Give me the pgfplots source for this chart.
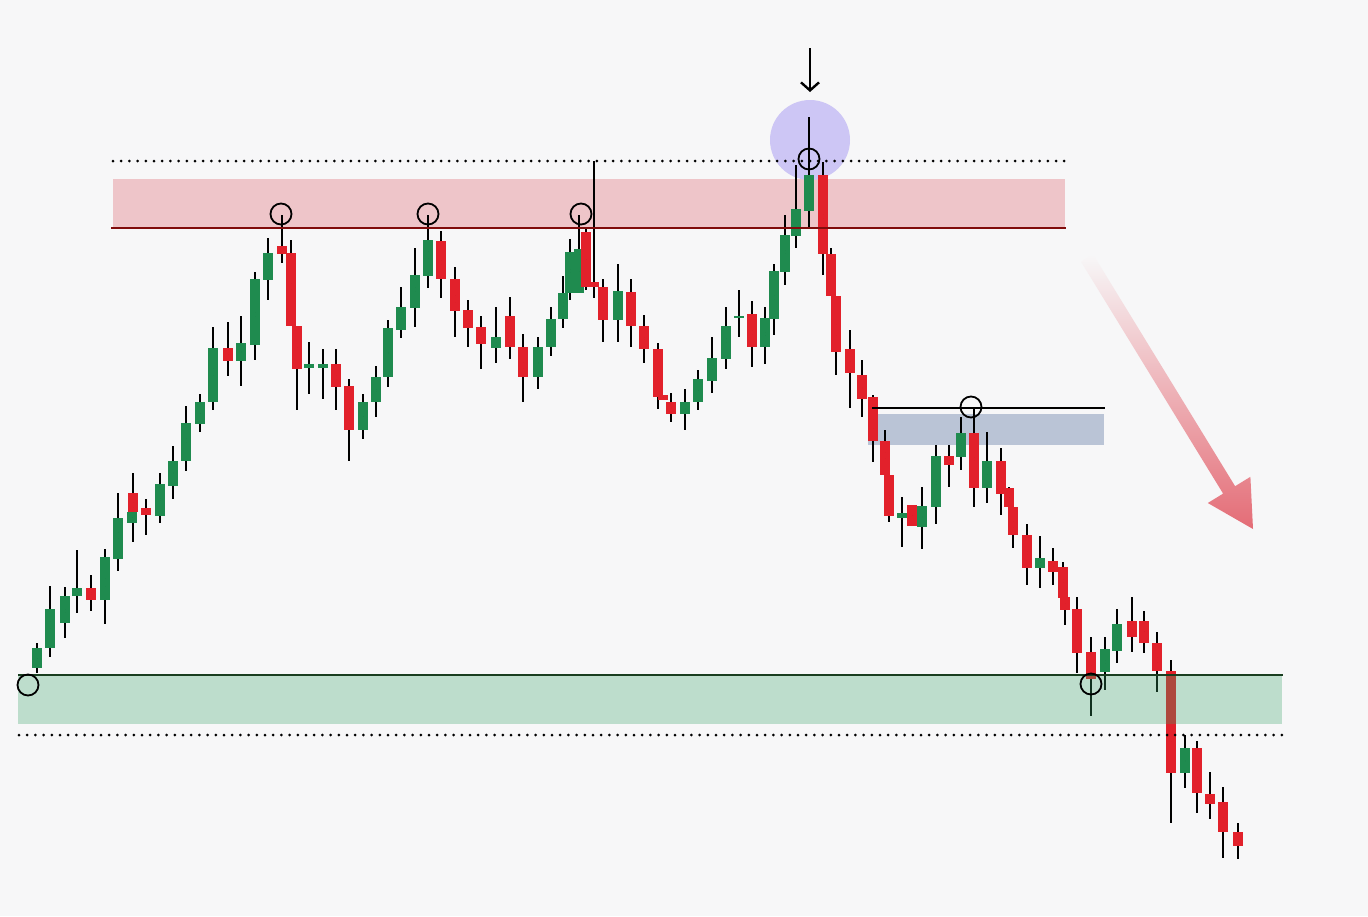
\documentclass[border=0pt]{standalone}
\usepackage{pgfplots}
\usepackage{pgfplotstable}
\pgfplotsset{compat=1.18}
\usetikzlibrary{arrows.meta}
\definecolor{bgc}{RGB}{247,247,248}
\definecolor{cgreen}{RGB}{31,139,79}
\definecolor{cred}{RGB}{226,33,43}
\definecolor{pinkzone}{RGB}{238,197,201}
\definecolor{darkred}{RGB}{128,12,12}
\definecolor{bluezone}{RGB}{186,196,214}
\definecolor{gzone}{RGB}{57,164,105}
\definecolor{darkgreen}{RGB}{25,62,32}
\definecolor{purp}{RGB}{205,198,245}
\definecolor{arrowred}{RGB}{228,108,118}

% pixel-based price values: x = bar position, o/c/h/l = open, close, high, low (screen y)
\pgfplotstableread{
x o c h l
37 668 648 643 673
50 648 609 586 657
65 623 596 587 638
77 596 588 550 613
105 600 557 549 624
118 559 518 493 571
132 523 512 512 523
160 516 484 473 523
173 486 461 446 499
186 461 423 406 471
200 424 402 394 432
213 402 348 327 410
241 361 343 316 386
255 345 279 272 360
268 280 253 238 300
309 368 364 342 394
323 368 364 349 399
363 430 402 394 439
376 402 377 366 417
388 377 328 320 387
401 330 307 287 338
415 308 275 248 327
428 276 240 215 288
496 348 337 307 363
538 377 347 337 389
551 347 319 307 356
563 319 293 276 328
570 293 252 239 300
579 293 249 215 293
618 320 291 264 342
685 414 402 389 430
698 402 379 370 410
712 381 358 337 393
726 359 326 307 369
739 318 316 290 337
765 347 318 307 364
774 319 271 264 335
785 272 235 215 285
796 236 209 165 248
809 211 175 117 227
902 518 513 497 547
922 527 506 487 549
936 507 456 445 524
961 457 433 417 470
987 488 461 432 503
1040 568 558 536 588
1105 672 649 637 690
1117 651 624 609 663
1185 773 748 735 788
}\greentab

\pgfplotstableread{
x o c h l
91 588 600 575 611
133 493 512 473 542
146 508 515 499 535
228 348 361 322 376
282 246 254 215 263
291 253 326 240 326
297 326 369 326 410
336 364 387 349 410
349 386 430 379 461
441 241 279 231 298
455 279 311 267 337
468 310 328 300 347
481 327 344 316 369
510 316 347 297 359
523 347 377 334 402
586 232 287 228 290
594 282 287 161 298
603 287 320 279 342
631 292 326 279 347
644 326 349 315 363
658 349 397 343 409
663 395 400 395 400
671 402 414 393 422
752 314 347 301 367
823 175 254 162 275
831 254 296 248 296
836 296 352 296 375
850 349 373 330 408
862 375 399 360 417
873 397 441 395 462
885 441 475 430 475
889 475 516 475 522
912 505 526 505 526
949 456 465 445 487
974 433 488 407 507
1001 461 494 448 515
1009 488 507 487 507
1013 507 535 507 548
1027 535 568 524 585
1053 561 572 548 585
1063 567 598 562 598
1065 597 610 597 625
1077 609 653 597 673
1091 652 679 637 716
1132 621 637 597 652
1144 621 643 611 653
1157 643 671 632 692
1171 671 773 660 823
1197 748 793 741 813
1210 794 804 772 819
1223 802 832 787 858
1238 832 846 823 859
}\redtab

\pgfplotsset{
  wick/.style={only marks, mark=*, mark size=0pt, mark options={draw=none, fill=none}, forget plot,
    error bars/.cd, y dir=both, y explicit, error mark=none,
    error bar style={draw=black, line width=1.6pt}},
  body/.style={only marks, mark=*, mark size=0pt, mark options={draw=none, fill=none}, forget plot,
    error bars/.cd, y dir=both, y explicit, error mark=none,
    error bar style={draw=#1, line width=9.5pt, line cap=butt}},
}

\begin{document}
\begin{tikzpicture}
\fill[bgc] (0,0) rectangle (1368pt,916pt);
\begin{axis}[
  at={(0,0)}, anchor=south west,
  width=1368pt, height=916pt, scale only axis,
  xmin=0, xmax=1368, ymin=0, ymax=916, y dir=reverse,
  hide axis, clip=false]

% zones behind candles
\fill[pinkzone] (axis cs:113,179) rectangle (axis cs:1065,228);
\fill[bluezone] (axis cs:868,414) rectangle (axis cs:1104,445);
\fill[purp] (axis cs:810,140) circle[radius=40pt];

% wicks
\addplot[wick] table[x=x, y expr={(\thisrow{h}+\thisrow{l})/2}, y error expr={abs(\thisrow{l}-\thisrow{h})/2}] {\greentab};
\addplot[wick] table[x=x, y expr={(\thisrow{h}+\thisrow{l})/2}, y error expr={abs(\thisrow{l}-\thisrow{h})/2}] {\redtab};
% bodies
\addplot[body=cgreen] table[x=x, y expr={(\thisrow{o}+\thisrow{c})/2}, y error expr={abs(\thisrow{o}-\thisrow{c})/2}] {\greentab};
\addplot[body=cred] table[x=x, y expr={(\thisrow{o}+\thisrow{c})/2}, y error expr={abs(\thisrow{o}-\thisrow{c})/2}] {\redtab};

% support zone over candles
\fill[gzone, fill opacity=0.3] (axis cs:18,675) rectangle (axis cs:1282,724);

% lines
\draw[darkred, line width=2.2pt] (axis cs:111,228) -- (axis cs:1066,228);
\draw[darkgreen, line width=2pt] (axis cs:18,675) -- (axis cs:1283,675);
\draw[black, line width=2pt] (axis cs:872,408) -- (axis cs:1105,408);
\draw[black, line width=3pt, line cap=round, dash pattern=on 0pt off 8.2pt] (axis cs:113,161) -- (axis cs:1066,161);
\draw[black, line width=3pt, line cap=round, dash pattern=on 0pt off 8.2pt] (axis cs:19,735) -- (axis cs:1283,735);

% circles
\draw[black, line width=1.8pt] (axis cs:28,685) circle[radius=10.5pt];
\draw[black, line width=1.8pt] (axis cs:281,214) circle[radius=10.5pt];
\draw[black, line width=1.8pt] (axis cs:428,214) circle[radius=10.5pt];
\draw[black, line width=1.8pt] (axis cs:581,214) circle[radius=10.5pt];
\draw[black, line width=1.8pt] (axis cs:809,159) circle[radius=10.5pt];
\draw[black, line width=1.8pt] (axis cs:971,407) circle[radius=10.5pt];
\draw[black, line width=1.8pt] (axis cs:1091,684) circle[radius=10.5pt];

% down arrow
\draw[black, line width=2.4pt, -{Straight Barb[length=8pt, width=18pt, line width=2.4pt]}] (axis cs:810,48) -- (axis cs:810,92);

% big gradient arrow
\shade[top color=bgc, bottom color=arrowred]
  (axis cs:1081,261.7) -- (axis cs:1223.1,493.6) -- (axis cs:1207.8,503) -- (axis cs:1253,529)
  -- (axis cs:1250.4,476.8) -- (axis cs:1235.1,486.2) -- (axis cs:1093,254.3) -- cycle;
\end{axis}
\end{tikzpicture}
\end{document}
